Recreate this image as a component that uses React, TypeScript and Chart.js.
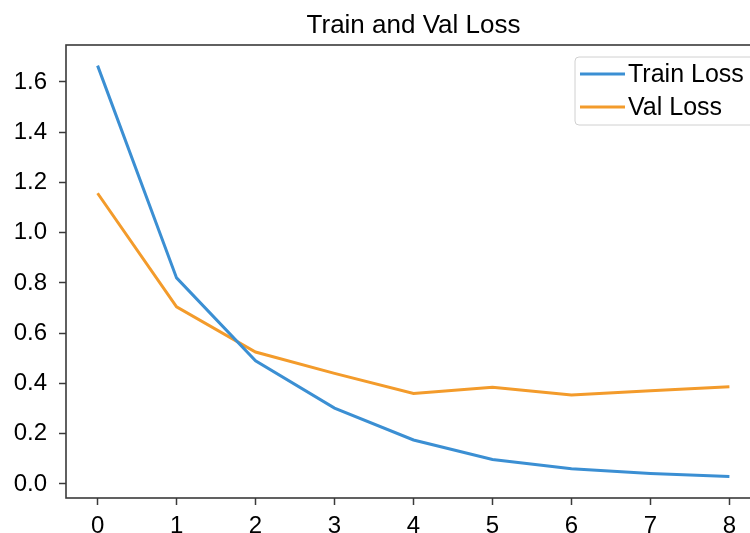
import React, { useEffect, useRef } from "react";
import { Chart, registerables } from "chart.js";

Chart.register(...registerables);

const epochs = [0, 1, 2, 3, 4, 5, 6, 7, 8];
const trainLoss = [1.665, 0.82, 0.49, 0.302, 0.175, 0.097, 0.06, 0.042, 0.03];
const valLoss = [1.157, 0.705, 0.525, 0.44, 0.36, 0.385, 0.354, 0.371, 0.387];
const xTicks = [0, 1, 2, 3, 4, 5, 6, 7, 8];
const yTicks = [0.0, 0.2, 0.4, 0.6, 0.8, 1.0, 1.2, 1.4, 1.6];
const seriesNames = ["Train Loss", "Val Loss"];
const seriesColors = ["#3b8fd3", "#f39b2b"];
const titleText = "Train and Val Loss";

const FONT = "'Liberation Sans', Arial, Helvetica, sans-serif";

const framePlugin = {
  id: "frameAndLegend",
  afterDatasetsDraw(chart: any) {
    const { ctx, chartArea } = chart;
    ctx.save();
    // title centered over the axes
    ctx.font = `26px ${FONT}`;
    ctx.fillStyle = "#000";
    ctx.textAlign = "center";
    ctx.textBaseline = "alphabetic";
    ctx.fillText(titleText, (chartArea.left + chartArea.right) / 2, chartArea.top - 12);

    // frame (spines)
    ctx.strokeStyle = "#3a3a3a";
    ctx.lineWidth = 1.6;
    ctx.strokeRect(chartArea.left, chartArea.top, chartArea.right - chartArea.left, chartArea.bottom - chartArea.top);

    // legend
    const bx = chartArea.right - 186;
    const by = chartArea.top + 12;
    const bw = 180;
    const bh = 68;
    const r = 4;
    ctx.beginPath();
    ctx.moveTo(bx + r, by);
    ctx.lineTo(bx + bw - r, by);
    ctx.quadraticCurveTo(bx + bw, by, bx + bw, by + r);
    ctx.lineTo(bx + bw, by + bh - r);
    ctx.quadraticCurveTo(bx + bw, by + bh, bx + bw - r, by + bh);
    ctx.lineTo(bx + r, by + bh);
    ctx.quadraticCurveTo(bx, by + bh, bx, by + bh - r);
    ctx.lineTo(bx, by + r);
    ctx.quadraticCurveTo(bx, by, bx + r, by);
    ctx.closePath();
    ctx.fillStyle = "rgba(255,255,255,0.85)";
    ctx.fill();
    ctx.strokeStyle = "#d0d0d0";
    ctx.lineWidth = 1;
    ctx.stroke();

    ctx.font = `25px ${FONT}`;
    ctx.textBaseline = "middle";
    ctx.textAlign = "left";
    chart.data.datasets.forEach((ds: any, i: number) => {
      const y = by + 17 + i * 33;
      ctx.strokeStyle = ds.borderColor;
      ctx.lineWidth = 3;
      ctx.beginPath();
      ctx.moveTo(bx + 5, y);
      ctx.lineTo(bx + 50, y);
      ctx.stroke();
      ctx.fillStyle = "#000";
      ctx.fillText(ds.label, bx + 53, y + 1);
    });
    ctx.restore();
  },
};

export default function App() {
  const ref = useRef<HTMLCanvasElement>(null);
  useEffect(() => {
    if (!ref.current) return;
    const chart = new Chart(ref.current, {
      type: "line",
      data: {
        datasets: [
          {
            label: seriesNames[0],
            data: epochs.map((e, i) => ({ x: e, y: trainLoss[i] })),
            borderColor: seriesColors[0],
            backgroundColor: seriesColors[0],
            borderWidth: 3,
            pointRadius: 0,
            tension: 0,
          },
          {
            label: seriesNames[1],
            data: epochs.map((e, i) => ({ x: e, y: valLoss[i] })),
            borderColor: seriesColors[1],
            backgroundColor: seriesColors[1],
            borderWidth: 3,
            pointRadius: 0,
            tension: 0,
          },
        ],
      },
      plugins: [framePlugin],
      options: {
        animation: false,
        responsive: false,
        devicePixelRatio: 1,
        layout: { padding: { left: 0, right: 29, top: 45, bottom: 0 } },
        plugins: {
          legend: { display: false },
          tooltip: { enabled: false },
          title: { display: false },
        },
        scales: {
          x: {
            type: "linear",
            min: -0.4,
            max: 8.4,
            afterFit(scale: any) {
              scale.height = 35;
            },
            afterBuildTicks(scale: any) {
              scale.ticks = xTicks.map((v) => ({ value: v }));
            },
            ticks: {
              color: "#000",
              font: { family: FONT, size: 24 },
              padding: 7,
              maxRotation: 0,
              autoSkip: false,
              callback: (v: any) => String(v),
            },
            grid: {
              display: true,
              drawOnChartArea: false,
              drawTicks: true,
              tickLength: 7,
              tickColor: "#3a3a3a",
              tickWidth: 1.5,
            },
            border: { display: false },
          },
          y: {
            type: "linear",
            min: -0.056,
            max: 1.747,
            afterFit(scale: any) {
              scale.width = 66;
            },
            afterBuildTicks(scale: any) {
              scale.ticks = yTicks.map((v) => ({ value: v }));
            },
            ticks: {
              color: "#000",
              font: { family: FONT, size: 24 },
              padding: 12,
              autoSkip: false,
              callback: (v: any) => Number(v).toFixed(1),
            },
            grid: {
              display: true,
              drawOnChartArea: false,
              drawTicks: true,
              tickLength: 7,
              tickColor: "#3a3a3a",
              tickWidth: 1.5,
            },
            border: { display: false },
          },
        },
      },
    });
    return () => chart.destroy();
  }, []);

  return (
    <div
      style={{
        position: "fixed",
        left: 0,
        top: 0,
        width: 750,
        height: 533,
        overflow: "hidden",
        background: "#fff",
      }}
    >
      <canvas ref={ref} width={790} height={533} style={{ display: "block" }} />
    </div>
  );
}
